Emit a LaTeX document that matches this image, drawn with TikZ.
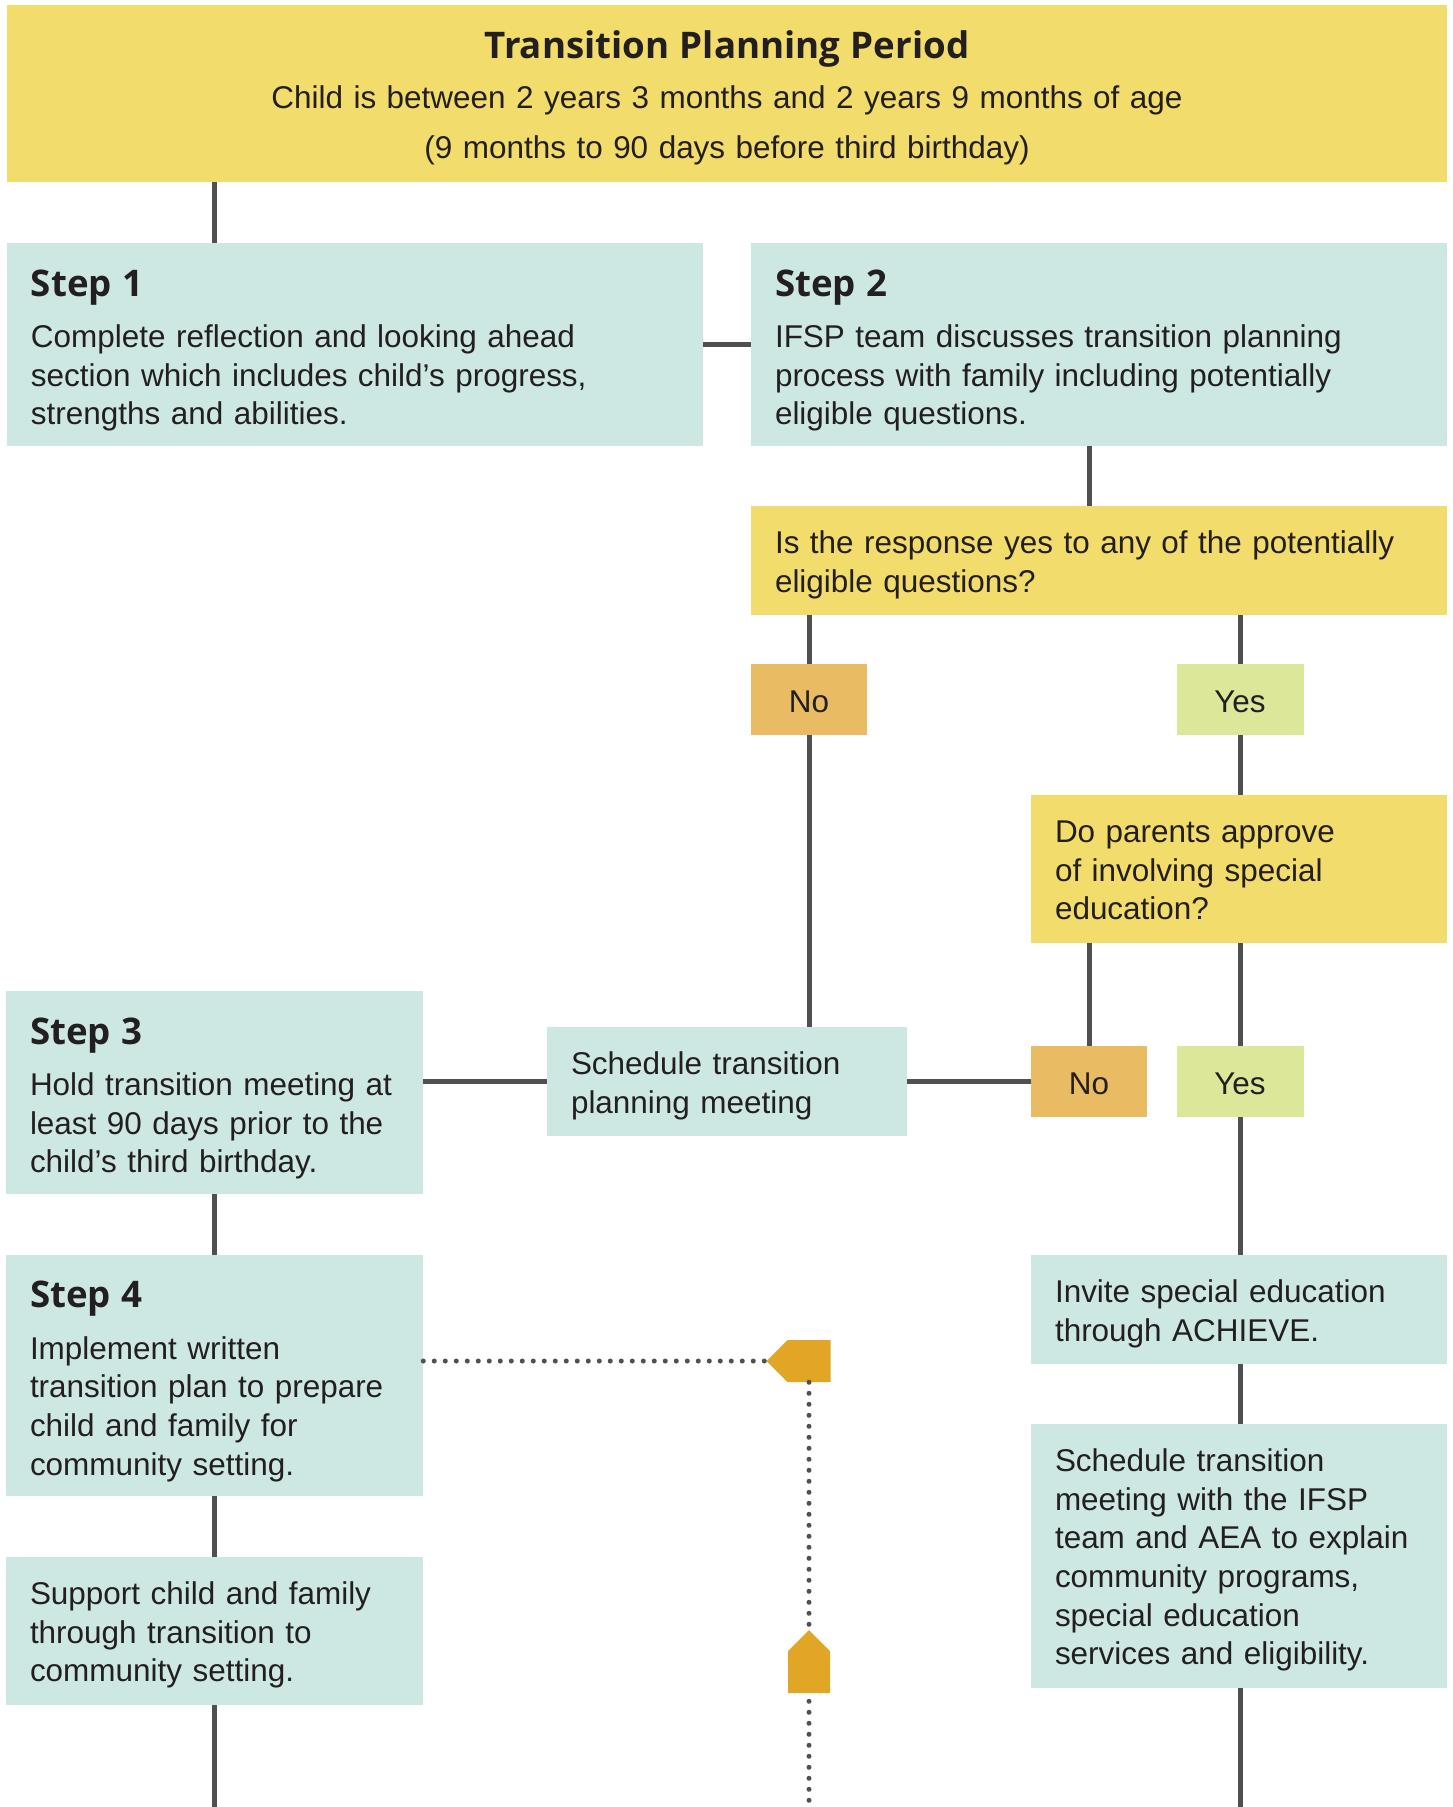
\documentclass[tikz,border=0pt]{standalone}
\usepackage{fontspec}
\setmainfont{Liberation Sans}
\newfontfamily\headfont{Open Sans}
\usetikzlibrary{shapes.symbols}

\definecolor{hdryellow}{HTML}{F2DC6B}
\definecolor{mint}{HTML}{CDE8E2}
\definecolor{noorange}{HTML}{E9BC64}
\definecolor{yesgreen}{HTML}{DDE79A}
\definecolor{markgold}{HTML}{E1A626}
\definecolor{linegray}{HTML}{505052}
\definecolor{ink}{HTML}{231F20}

\newcommand{\topstrut}{\rule{0pt}{24.7pt}}
\newcommand{\botstrut}{\rule[-6.3pt]{0pt}{0pt}}
\newcommand{\stephead}[1]{\rule{0pt}{30.4pt}{\headfont\bfseries\fontsize{27.5}{29}\selectfont #1}\\[9.5pt]}

\tikzset{
  box/.style={fill=mint, text=ink, inner xsep=18pt, inner ysep=0pt, align=left,
    font=\fontsize{23.6}{29}\selectfont,
    execute at begin node=\topstrut, execute at end node=\botstrut},
  askbox/.style={box, fill=hdryellow},
  nobox/.style={fill=noorange, text=ink, inner sep=0pt, minimum width=87pt,
    minimum height=53.25pt, text height=19pt, text depth=0pt,
    font=\fontsize{23.6}{29}\selectfont},
  yesbox/.style={nobox, fill=yesgreen, minimum width=95.25pt},
  conn/.style={draw=linegray, line width=3.75pt},
  dotline/.style={draw=linegray, line width=3.75pt, line cap=round,
    dash pattern=on 0pt off 8.25pt},
  marker/.style={signal, fill=markgold, inner sep=0pt, signal pointer angle=90}
}

\begin{document}
\begin{tikzpicture}[x=0.75pt,y=-0.75pt]
\useasboundingbox (0,0) rectangle (1453,1807);
\coordinate (bot) at (0,1807);

\node[askbox, align=center, text width=1044pt, minimum height=132.75pt,
  font=\fontsize{23.6}{37.5}\selectfont] (hdr) at (727,93.5)
  {\rule{0pt}{29pt}{\headfont\bfseries\fontsize{27.5}{29}\selectfont Transition Planning Period}\\
   Child is between 2 years 3 months and 2 years 9 months of age\\
   (9 months to 90 days before third birthday)};

\node[box, text width=486pt, minimum height=152.25pt] (stepone) at (355,344.5)
  {\stephead{Step 1}Complete reflection and looking ahead\\
   section which includes child’s progress,\\ strengths and abilities.};
\node[box, text width=486pt, minimum height=152.25pt] (steptwo) at (1099,344.5)
  {\stephead{Step 2}IFSP team discusses transition planning\\
   process with family including potentially\\ eligible questions.};
\node[askbox, text width=486pt, minimum height=81.75pt] (quest) at (1099,560.5)
  {Is the response yes to any of the potentially\\ eligible questions?};

\node[nobox] (noA) at (809,699.5) {No};
\node[yesbox] (yesA) at (1240,699.5) {Yes};

\node[askbox, text width=276pt, minimum height=111pt] (approve) at (1239,869)
  {Do parents approve\\ of involving special\\ education?};

\node[nobox] (noB) at (1089,1081.5) {No};
\node[yesbox] (yesB) at (1240,1081.5) {Yes};
\node[box, text width=234pt, minimum height=81.75pt] (sched) at (727,1081.5)
  {Schedule transition\\ planning meeting};

\node[box, text width=276.75pt, minimum height=152.25pt] (stepthree) at (214.5,1092.5)
  {\stephead{Step 3}Hold transition meeting at\\ least 90 days prior to the\\
   child’s third birthday.};
\node[box, text width=276.75pt, minimum height=180.75pt] (stepfour) at (214.5,1375.5)
  {\stephead{Step 4}Implement written\\ transition plan to prepare\\
   child and family for\\ community setting.};
\node[box, text width=276.75pt, minimum height=111pt] (support) at (214.5,1631)
  {Support child and family\\ through transition to\\ community setting.};

\node[box, text width=276pt, minimum height=81.75pt] (invite) at (1239,1309.5)
  {Invite special education\\ through ACHIEVE.};
\node[box, text width=276pt, minimum height=198pt] (meet) at (1239,1556)
  {Schedule transition\\ meeting with the IFSP\\ team and AEA to explain\\
   community programs,\\ special education\\ services and eligibility.};

\draw[conn] (hdr.south -| stepthree) -- (stepone.north -| stepthree);
\draw[conn] (stepone.east) -- (steptwo.west);
\draw[conn] (steptwo.south -| noB) -- (quest.north -| noB);
\draw[conn] (quest.south -| noA) -- (noA.north);
\draw[conn] (noA.south) -- (sched.north -| noA);
\draw[conn] (quest.south -| yesA) -- (yesA.north);
\draw[conn] (yesA.south) -- (approve.north -| yesA);
\draw[conn] (approve.south -| noB) -- (noB.north);
\draw[conn] (approve.south -| yesB) -- (yesB.north);
\draw[conn] (yesB.south) -- (invite.north -| yesB);
\draw[conn] (invite.south -| yesB) -- (meet.north -| yesB);
\draw[conn] (meet.south -| yesB) -- (yesB |- bot);
\draw[conn] (stepthree.east |- sched.west) -- (sched.west);
\draw[conn] (sched.east) -- (noB.west);
\draw[conn] (stepthree.south) -- (stepfour.north);
\draw[conn] (stepfour.south) -- (support.north);
\draw[conn] (support.south) -- (support |- bot);

\node[marker, signal to=west, minimum width=48pt, minimum height=31.5pt] (markA) at (809,1361) {};
\draw[dotline] (stepfour.east |- markA.west) -- (markA.west);
\draw[dotline] (markA.south -| noA) -- (noA |- bot);
\node[marker, signal to=north, minimum width=31.5pt, minimum height=31.5pt] (markB) at (809,1672) {};
\end{tikzpicture}
\end{document}
